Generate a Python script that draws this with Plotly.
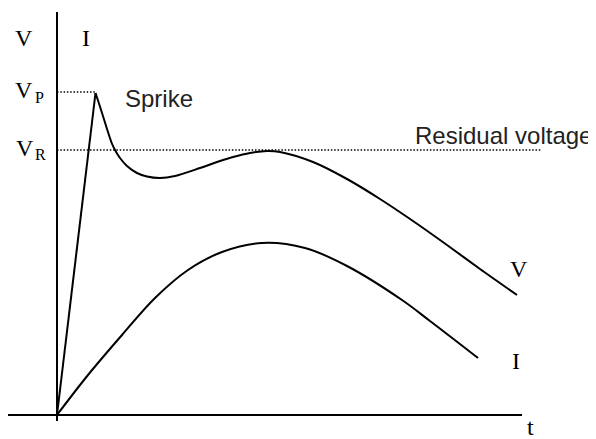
import plotly.graph_objects as go

# V curve (t, value) - first segment is the linear rise to the spike peak
v_t = [0, 38.5, 41.5, 44.7, 49.7, 54.7, 58, 63, 70, 80, 90, 103, 118, 143, 163, 176, 193, 210, 223, 256, 290, 323, 356, 390, 423, 460]
v_v = [0, 322, 313, 303, 287, 272, 265, 257, 249, 242, 238.5, 237, 239, 247, 254, 258, 262, 264, 263, 253, 236, 216, 194, 170, 146, 120]

# I curve
i_t = [0, 31, 65, 98, 131, 165, 205, 248, 290, 345, 373, 421]
i_v = [0, 40, 80, 117, 145, 163, 172, 167, 149, 115, 94, 57]

v_peak = 323       # V_P level
v_resid = 265      # V_R level

fig = go.Figure()

blk = "#000000"
# axes
fig.add_trace(go.Scatter(x=[-50, 465], y=[0, 0], mode="lines",
                         line=dict(color=blk, width=2), hoverinfo="skip"))
fig.add_trace(go.Scatter(x=[0, 0], y=[-6, 403], mode="lines",
                         line=dict(color=blk, width=2), hoverinfo="skip"))

# dotted reference lines
fig.add_trace(go.Scatter(x=[0, v_t[1]], y=[v_peak, v_peak], mode="lines",
                         line=dict(color=blk, width=1.5, dash="1.5px,1.8px"), hoverinfo="skip"))
fig.add_trace(go.Scatter(x=[0, 485], y=[v_resid, v_resid], mode="lines",
                         line=dict(color=blk, width=1.5, dash="1.5px,1.8px"), hoverinfo="skip"))

# V rise
fig.add_trace(go.Scatter(x=v_t[:2], y=v_v[:2], mode="lines",
                         line=dict(color=blk, width=2), hoverinfo="skip"))
# V after spike
fig.add_trace(go.Scatter(x=v_t[1:], y=v_v[1:], mode="lines",
                         line=dict(color=blk, width=2, shape="spline", smoothing=0.8), hoverinfo="skip"))
# I
fig.add_trace(go.Scatter(x=i_t, y=i_v, mode="lines",
                         line=dict(color=blk, width=2, shape="spline", smoothing=1), hoverinfo="skip"))

serif = dict(family="Liberation Serif", size=24, color=blk)
serif_sub = dict(family="Liberation Serif", size=16, color=blk)
sans = dict(family="Liberation Sans", size=24, color="#222222")

ann = [
    dict(x=-33, y=377, text="V", font=serif, xanchor="center", yanchor="middle"),
    dict(x=29, y=377, text="I", font=serif, xanchor="center", yanchor="middle"),
    dict(x=-33, y=325, text="V", font=serif, xanchor="center", yanchor="middle"),
    dict(x=-18, y=318, text="P", font=serif_sub, xanchor="center", yanchor="middle"),
    dict(x=-32, y=267, text="V", font=serif, xanchor="center", yanchor="middle"),
    dict(x=-17, y=261, text="R", font=serif_sub, xanchor="center", yanchor="middle"),
    dict(x=102, y=317, text="Sprike", font=sans, xanchor="center", yanchor="middle"),
    dict(x=537, y=280, text="Residual voltage", font=sans, xanchor="right", yanchor="middle"),
    dict(x=462, y=146, text="V", font=serif, xanchor="center", yanchor="middle"),
    dict(x=459, y=54, text="I", font=serif, xanchor="center", yanchor="middle"),
    dict(x=473, y=-12, text="t", font=serif, xanchor="center", yanchor="middle"),
]
for a in ann:
    a.update(showarrow=False, xref="x", yref="y")

# page body has an 8px margin, so the figure is 8px smaller on each axis
fig.update_layout(
    width=588, height=431,
    margin=dict(l=0, r=0, t=0, b=0),
    paper_bgcolor="white", plot_bgcolor="white",
    showlegend=False,
    annotations=ann,
    xaxis=dict(range=[-49, 539], visible=False, fixedrange=True),
    yaxis=dict(range=[-24, 407], visible=False, fixedrange=True),
)

fig.write_html("out.html", config={"displayModeBar": False})
